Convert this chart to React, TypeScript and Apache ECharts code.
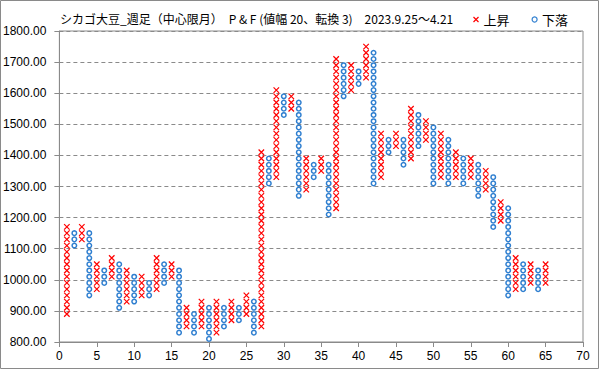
import React, { useEffect, useRef } from "react";
import * as echarts from "echarts";

// Point & Figure columns (column 1..65), odd = X (上昇), even = O (下落)
const BOX_SIZE = 20;
const colLow = [
  890, 1110, 1130, 950, 970, 990, 1010, 910, 930, 930,
  950, 950, 970, 990, 1010, 830, 850, 830, 850, 810,
  830, 850, 870, 870, 890, 830, 850, 1310, 1330, 1530,
  1550, 1270, 1290, 1330, 1350, 1210, 1230, 1590, 1610, 1630,
  1650, 1310, 1330, 1410, 1430, 1370, 1390, 1430, 1450, 1310,
  1330, 1310, 1330, 1310, 1330, 1270, 1290, 1170, 1190, 950,
  970, 970, 990, 970, 990,
];
const colHigh = [
  1170, 1150, 1170, 1150, 1050, 1030, 1070, 1050, 1030, 1010,
  1010, 990, 1070, 1050, 1050, 1030, 910, 890, 930, 910,
  930, 910, 930, 910, 950, 930, 1410, 1390, 1610, 1590,
  1590, 1570, 1390, 1370, 1390, 1370, 1710, 1690, 1690, 1670,
  1750, 1730, 1470, 1450, 1470, 1450, 1550, 1530, 1510, 1490,
  1470, 1450, 1410, 1390, 1390, 1370, 1350, 1330, 1250, 1230,
  1070, 1050, 1050, 1030, 1050,
];
const yTicks = [800, 900, 1000, 1100, 1200, 1300, 1400, 1500, 1600, 1700, 1800];
const xTicks = [0, 5, 10, 15, 20, 25, 30, 35, 40, 45, 50, 55, 60, 65, 70];
const TITLE = "シカゴ大豆_週足（中心限月）　P & F (値幅 20、転換 3)　2023.9.25～4.21";
const SERIES_UP = "上昇";
const SERIES_DOWN = "下落";

const X_PATH = "path://M0,0L10,10M10,0L0,10";

function buildPoints(kind: "X" | "O"): number[][] {
  const pts: number[][] = [];
  colLow.forEach((lo, i) => {
    const col = i + 1;
    const isX = col % 2 === 1;
    if ((kind === "X") !== isX) return;
    for (let v = lo; v <= colHigh[i]; v += BOX_SIZE) pts.push([col, v]);
  });
  return pts;
}

export default function App() {
  const ref = useRef<HTMLDivElement>(null);
  useEffect(() => {
    document.body.style.margin = "0";
    const chart = echarts.init(ref.current!, null, { renderer: "svg" });
    const labelFont = "Liberation Sans";
    chart.setOption({
      animation: false,
      backgroundColor: "#fff",
      title: {
        text: TITLE,
        left: 60,
        top: 12,
        padding: 0,
        textStyle: {
          fontSize: 12,
          fontWeight: "normal",
          color: "#000",
          fontFamily: "Noto Sans CJK JP",
        },
      },
      legend: {
        left: 471,
        top: 13,
        padding: 0,
        itemWidth: 5,
        itemHeight: 5,
        itemGap: 22,
        textStyle: { fontSize: 13, color: "#000", fontFamily: "Noto Sans CJK JP" },
        data: [
          {
            name: SERIES_UP,
            icon: X_PATH,
            itemStyle: { color: "none", borderColor: "#ff0000", borderWidth: 1.2 },
          },
          {
            name: SERIES_DOWN,
            icon: "circle",
            itemStyle: { color: "#fff", borderColor: "#2f7fd0", borderWidth: 1.2 },
          },
        ],
      },
      graphic: [
        {
          type: "rect",
          shape: { x: 0.5, y: 0.5, width: 598, height: 368 },
          style: { fill: "none", stroke: "#8a8a8a", lineWidth: 1 },
          silent: true,
        },
      ],
      grid: {
        left: 58,
        right: 16,
        top: 31,
        bottom: 27,
        show: true,
        borderColor: "#8a8a8a",
        borderWidth: 1,
        backgroundColor: "transparent",
      },
      xAxis: {
        type: "value",
        min: xTicks[0],
        max: xTicks[xTicks.length - 1],
        interval: 5,
        axisLine: { show: true, lineStyle: { color: "#8a8a8a" } },
        axisTick: { show: true, length: 5, lineStyle: { color: "#8a8a8a" } },
        splitLine: { show: false },
        axisLabel: { fontSize: 12, color: "#000", fontFamily: labelFont, margin: 8 },
      },
      yAxis: {
        type: "value",
        min: yTicks[0],
        max: yTicks[yTicks.length - 1],
        interval: 100,
        axisLine: { show: true, lineStyle: { color: "#8a8a8a" } },
        axisTick: { show: true, length: 5, lineStyle: { color: "#8a8a8a" } },
        splitLine: { show: true, lineStyle: { color: "#8a8a8a", type: [4, 3], width: 1 } },
        axisLabel: {
          fontSize: 12,
          color: "#000",
          fontFamily: labelFont,
          margin: 13,
          formatter: (v: number) => v.toFixed(2),
        },
      },
      series: [
        {
          name: SERIES_UP,
          type: "scatter",
          data: buildPoints("X"),
          symbol: X_PATH,
          symbolSize: [5.5, 5.5],
          itemStyle: { color: "none", borderColor: "#ff0000", borderWidth: 1.2, opacity: 1 },
          emphasis: { disabled: true },
        },
        {
          name: SERIES_DOWN,
          type: "scatter",
          data: buildPoints("O"),
          symbol: "circle",
          symbolSize: 4.5,
          itemStyle: { color: "#fff", borderColor: "#2f7fd0", borderWidth: 1.5, opacity: 1 },
          emphasis: { disabled: true },
        },
      ],
    });
    return () => chart.dispose();
  }, []);
  return (
    <div
      ref={ref}
      style={{ position: "absolute", left: 0, top: 0, width: 599, height: 369 }}
    />
  );
}
